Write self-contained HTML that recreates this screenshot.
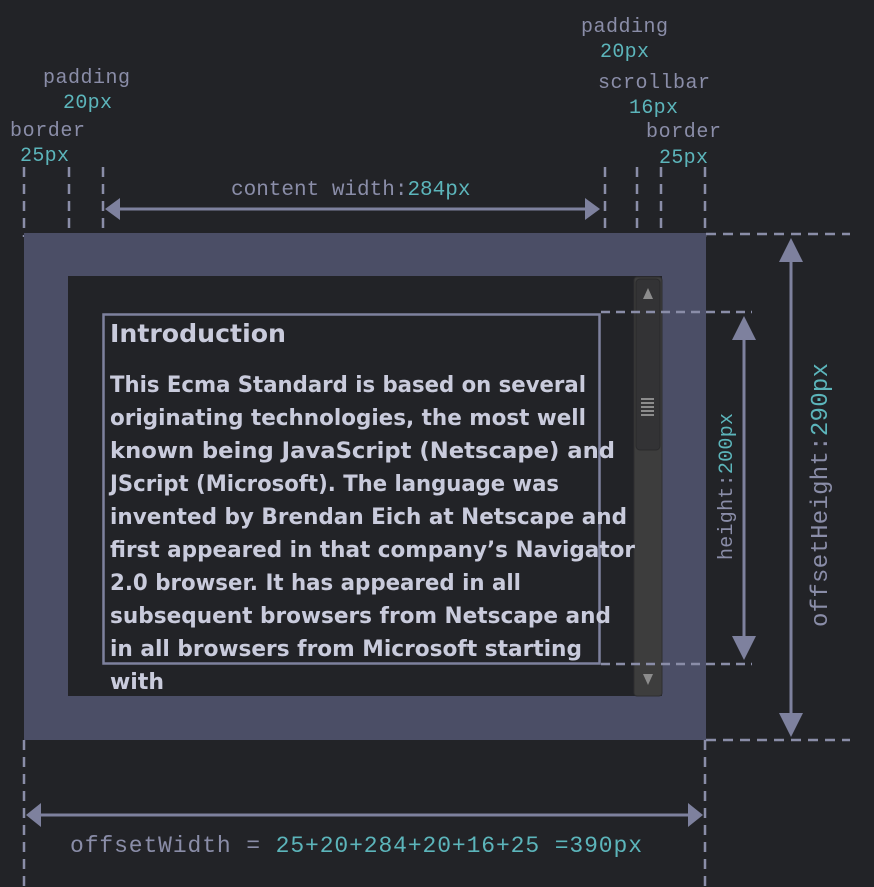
<!DOCTYPE html>
<html><head><meta charset="utf-8"><style>
html,body{margin:0;padding:0;background:#222327;}
svg{display:block}
.m{font-family:"Liberation Mono",monospace;fill:#8a8da8}
.t{fill:#5cb5bb}
.b{font-family:"DejaVu Sans","Liberation Sans",sans-serif;font-weight:bold;fill:#c9cbdc}
</style></head><body>
<svg width="874" height="887" viewBox="0 0 874 887" xmlns="http://www.w3.org/2000/svg">
<rect width="874" height="887" fill="#222327"/>
<text class="m" x="581" y="32" font-size="20" textLength="87">padding</text>
<text class="m t" x="600" y="57" font-size="20" textLength="49">20px</text>
<text class="m" x="43" y="83" font-size="20" textLength="87">padding</text>
<text class="m t" x="63" y="108" font-size="20" textLength="49">20px</text>
<text class="m" x="10" y="136" font-size="20" textLength="75">border</text>
<text class="m t" x="20" y="161" font-size="20" textLength="49">25px</text>
<text class="m" x="598" y="88" font-size="20" textLength="112">scrollbar</text>
<text class="m t" x="629" y="113" font-size="20" textLength="49">16px</text>
<text class="m" x="646" y="137" font-size="20" textLength="75">border</text>
<text class="m t" x="659" y="163" font-size="20" textLength="49">25px</text>
<text class="m" x="231" y="195" font-size="21"><tspan>content width:</tspan><tspan class="t">284px</tspan></text>
<g stroke="#8a8da8" stroke-width="2.5" stroke-dasharray="10,7">
<line x1="24" y1="167" x2="24" y2="237"/><line x1="69" y1="167" x2="69" y2="237"/><line x1="103" y1="167" x2="103" y2="237"/>
<line x1="605" y1="167" x2="605" y2="237"/><line x1="637" y1="167" x2="637" y2="237"/><line x1="661" y1="167" x2="661" y2="237"/><line x1="705" y1="167" x2="705" y2="237"/>
<line x1="24" y1="740" x2="24" y2="887"/><line x1="705" y1="740" x2="705" y2="887"/>
<line x1="706" y1="234" x2="850" y2="234"/><line x1="706" y1="740" x2="850" y2="740"/>
</g>
<g fill="#7e819e" stroke="#7e819e">
<line x1="120" y1="209" x2="585" y2="209" stroke-width="3"/>
<polygon points="105,209 120,198 120,220" stroke="none"/>
<polygon points="600,209 585,198 585,220" stroke="none"/>
</g>
<rect x="24" y="233" width="682" height="507" fill="#4b4e66"/>
<rect x="68" y="276" width="594" height="420" fill="#222327"/>
<rect x="634" y="277" width="28" height="419" rx="3" fill="#3d3d3d" stroke="#2e2e30"/>
<rect x="636" y="279" width="24" height="171" rx="4" fill="#333335" stroke="#2a2a2c"/>
<polygon points="648,288 643,299 653,299" fill="#8c8c8c"/>
<polygon points="648,685 643,674 653,674" fill="#8c8c8c"/>
<g fill="#8c8c8c"><rect x="641" y="398" width="13" height="2"/><rect x="641" y="402" width="13" height="2"/><rect x="641" y="406" width="13" height="2"/><rect x="641" y="410" width="13" height="2"/><rect x="641" y="414" width="13" height="2"/></g>
<rect x="103.5" y="314.5" width="496" height="349" fill="none" stroke="#7e819e" stroke-width="2.5"/>
<defs><clipPath id="c"><rect x="68" y="276" width="570" height="420"/></clipPath></defs>
<g clip-path="url(#c)">
<text class="b" x="110" y="342" font-size="25" textLength="176" lengthAdjust="spacingAndGlyphs">Introduction</text>
<g font-size="22">
<text class="b" x="110" y="392" textLength="476" lengthAdjust="spacingAndGlyphs">This Ecma Standard is based on several</text>
<text class="b" x="110" y="425" textLength="476" lengthAdjust="spacingAndGlyphs">originating technologies, the most well</text>
<text class="b" x="110" y="458" textLength="505" lengthAdjust="spacingAndGlyphs">known being JavaScript (Netscape) and</text>
<text class="b" x="110" y="491" textLength="449" lengthAdjust="spacingAndGlyphs">JScript (Microsoft). The language was</text>
<text class="b" x="110" y="524" textLength="517" lengthAdjust="spacingAndGlyphs">invented by Brendan Eich at Netscape and</text>
<text class="b" x="110" y="557" textLength="525" lengthAdjust="spacingAndGlyphs">first appeared in that company’s Navigator</text>
<text class="b" x="110" y="590" textLength="411" lengthAdjust="spacingAndGlyphs">2.0 browser. It has appeared in all</text>
<text class="b" x="110" y="623" textLength="501" lengthAdjust="spacingAndGlyphs">subsequent browsers from Netscape and</text>
<text class="b" x="110" y="656" textLength="472" lengthAdjust="spacingAndGlyphs">in all browsers from Microsoft starting</text>
<text class="b" x="110" y="689" textLength="54" lengthAdjust="spacingAndGlyphs">with</text>
</g>
</g>
<g stroke="#8a8da8" stroke-width="2.5" stroke-dasharray="9,6">
<line x1="601" y1="312" x2="752" y2="312"/><line x1="601" y1="664" x2="752" y2="664"/>
</g>
<g fill="#7e819e" stroke="#7e819e">
<line x1="744" y1="330" x2="744" y2="645" stroke-width="3"/>
<polygon points="744,316 732,340 756,340" stroke="none"/>
<polygon points="744,660 732,636 756,636" stroke="none"/>
<line x1="791" y1="255" x2="791" y2="722" stroke-width="3"/>
<polygon points="791,238 779,262 803,262" stroke="none"/>
<polygon points="791,737 779,713 803,713" stroke="none"/>
</g>
<text class="m" transform="translate(732,560) rotate(-90)" font-size="20" textLength="147"><tspan>height:</tspan><tspan class="t">200px</tspan></text>
<text class="m" transform="translate(827,627) rotate(-90)" font-size="24" textLength="264"><tspan>offsetHeight:</tspan><tspan class="t">290px</tspan></text>
<g fill="#7e819e" stroke="#7e819e">
<line x1="40" y1="815" x2="690" y2="815" stroke-width="3"/>
<polygon points="26,815 41,803 41,827" stroke="none"/>
<polygon points="703,815 688,803 688,827" stroke="none"/>
</g>
<text class="m" x="70" y="852" font-size="23" textLength="572"><tspan>offsetWidth = </tspan><tspan class="t">25+20+284+20+16+25 =390px</tspan></text>
</svg>
</body></html>
